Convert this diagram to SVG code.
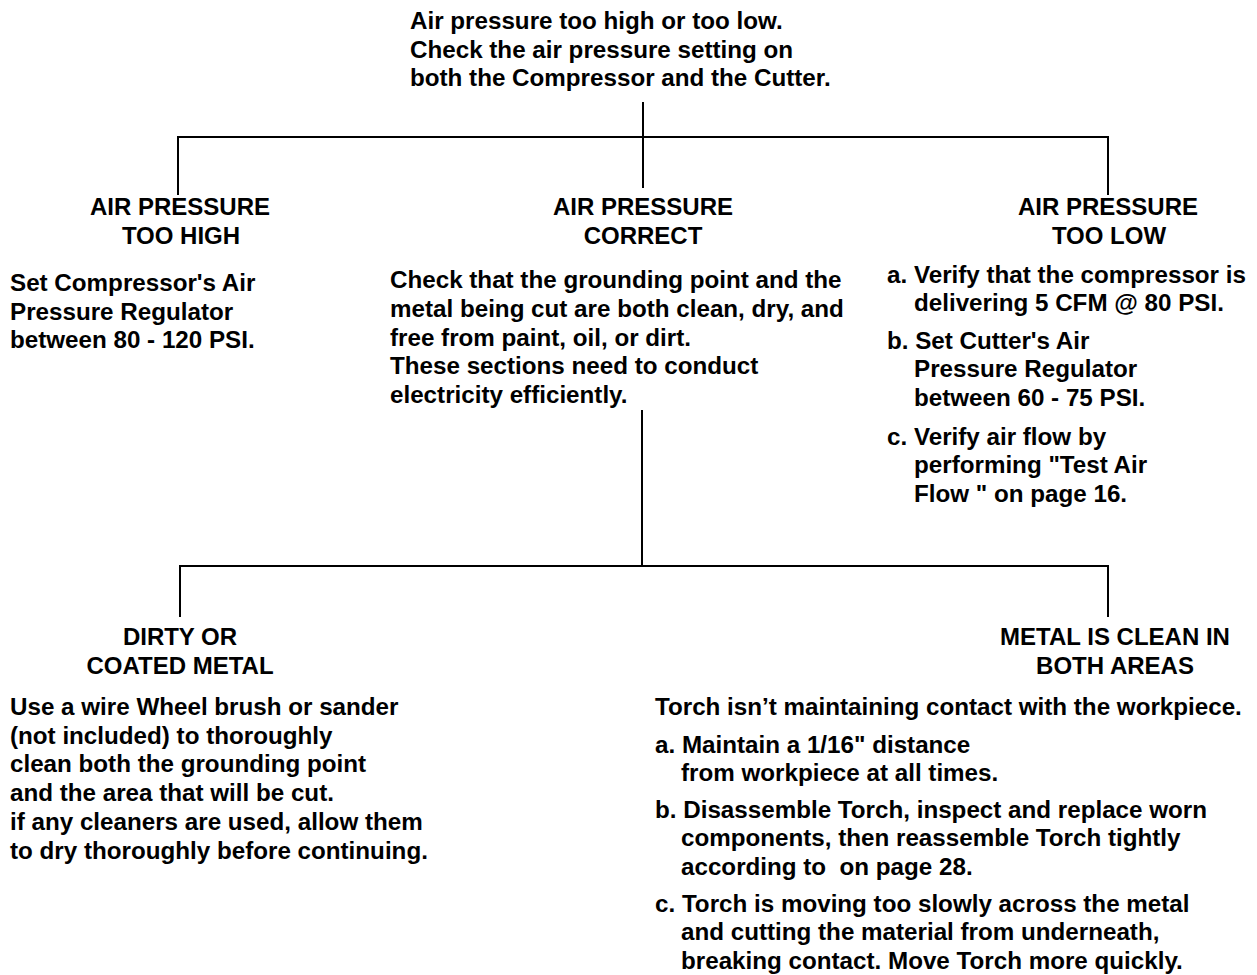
<svg xmlns="http://www.w3.org/2000/svg" width="1257" height="975" viewBox="0 0 1257 975">
<style>
text{font-family:"Liberation Sans",Arial,Helvetica,sans-serif;font-weight:bold;fill:#000;white-space:pre}
.b{font-size:24.2px}
.h{font-size:24px;text-anchor:middle}
.h2{font-size:24px;text-anchor:middle}
.c line{stroke:#000;stroke-width:2;fill:none}
</style>
<rect width="1257" height="975" fill="#fff"/>
<g id="root">
<text class="b" x="410" y="29">Air pressure too high or too low.</text>
<text class="b" x="410" y="57.5">Check the air pressure setting on</text>
<text class="b" x="410" y="86">both the Compressor and the Cutter.</text>
</g>
<g id="too-high">
<text class="h" x="180" y="215">AIR PRESSURE</text>
<text class="h" x="181" y="244">TOO HIGH</text>
<text class="b" x="10" y="291">Set Compressor's Air</text>
<text class="b" x="10" y="320">Pressure Regulator</text>
<text class="b" x="10" y="348">between 80 - 120 PSI.</text>
</g>
<g id="correct">
<text class="h" x="643" y="215">AIR PRESSURE</text>
<text class="h" x="643" y="244">CORRECT</text>
<text class="b" x="390" y="288">Check that the grounding point and the</text>
<text class="b" x="390" y="317">metal being cut are both clean, dry, and</text>
<text class="b" x="390" y="346">free from paint, oil, or dirt.</text>
<text class="b" x="390" y="374">These sections need to conduct</text>
<text class="b" x="390" y="403">electricity efficiently.</text>
</g>
<g id="too-low">
<text class="h" x="1108" y="215">AIR PRESSURE</text>
<text class="h" x="1109" y="244">TOO LOW</text>
<text class="b" x="887" y="283">a. Verify that the compressor is</text>
<text class="b" x="914" y="311">delivering 5 CFM @ 80 PSI.</text>
<text class="b" x="887" y="349">b. Set Cutter's Air</text>
<text class="b" x="914" y="377">Pressure Regulator</text>
<text class="b" x="914" y="406">between 60 - 75 PSI.</text>
<text class="b" x="887" y="445">c. Verify air flow by</text>
<text class="b" x="914" y="473">performing "Test Air</text>
<text class="b" x="914" y="502">Flow " on page 16.</text>
</g>
<g id="dirty">
<text class="h2" x="180" y="645">DIRTY OR</text>
<text class="h2" x="180" y="674">COATED METAL</text>
<text class="b" x="10" y="715">Use a wire Wheel brush or sander</text>
<text class="b" x="10" y="744">(not included) to thoroughly</text>
<text class="b" x="10" y="772">clean both the grounding point</text>
<text class="b" x="10" y="801">and the area that will be cut.</text>
<text class="b" x="10" y="830">if any cleaners are used, allow them</text>
<text class="b" x="10" y="859">to dry thoroughly before continuing.</text>
</g>
<g id="clean">
<text class="h2" x="1115" y="645">METAL IS CLEAN IN</text>
<text class="h2" x="1115" y="674">BOTH AREAS</text>
<text class="b" x="655" y="715">Torch isn’t maintaining contact with the workpiece.</text>
<text class="b" x="655" y="753">a. Maintain a 1/16" distance</text>
<text class="b" x="681" y="781">from workpiece at all times.</text>
<text class="b" x="655" y="818">b. Disassemble Torch, inspect and replace worn</text>
<text class="b" x="681" y="846">components, then reassemble Torch tightly</text>
<text class="b" x="681" y="875">according to  on page 28.</text>
<text class="b" x="655" y="912">c. Torch is moving too slowly across the metal</text>
<text class="b" x="681" y="940">and cutting the material from underneath,</text>
<text class="b" x="681" y="969">breaking contact. Move Torch more quickly.</text>
</g>
<g id="connectors" class="c">
<line x1="643" y1="102" x2="643" y2="188"/>
<line x1="178" y1="137" x2="1108" y2="137"/>
<line x1="178" y1="136" x2="178" y2="195"/>
<line x1="1108" y1="136" x2="1108" y2="195"/>
<line x1="642" y1="410" x2="642" y2="566"/>
<line x1="180" y1="566" x2="1108" y2="566"/>
<line x1="180" y1="565" x2="180" y2="617"/>
<line x1="1108" y1="565" x2="1108" y2="617"/>
</g>
</svg>
